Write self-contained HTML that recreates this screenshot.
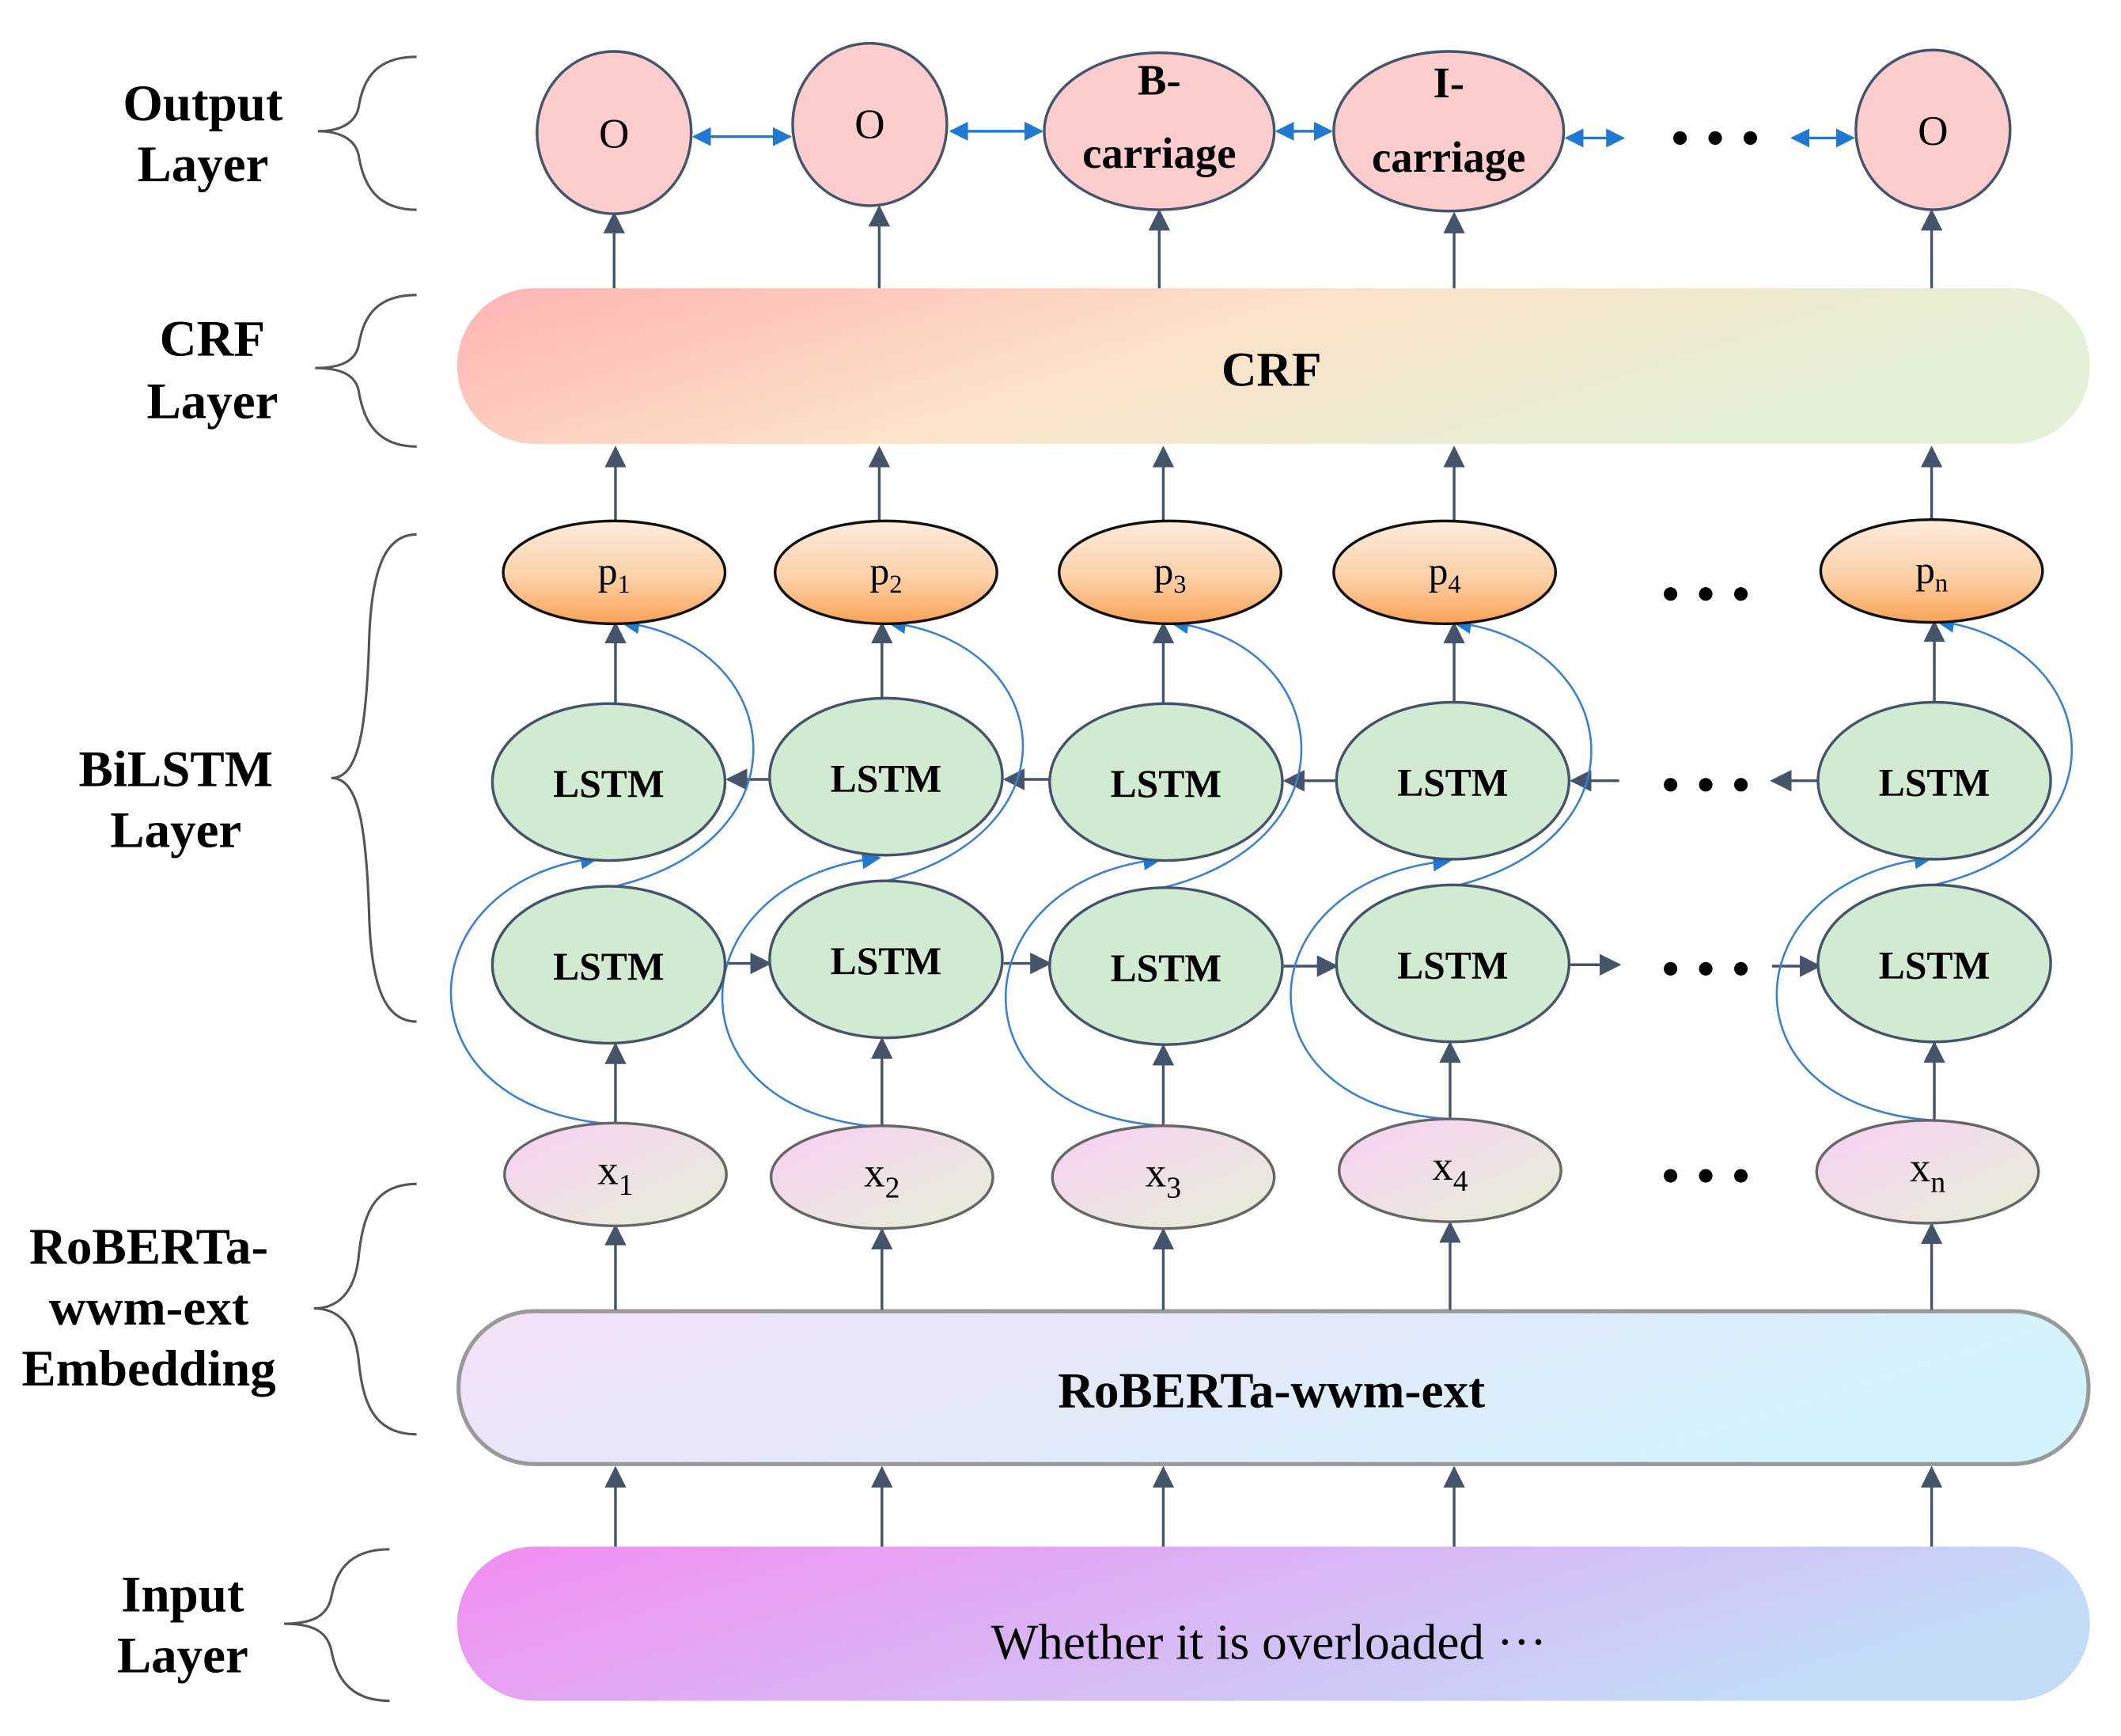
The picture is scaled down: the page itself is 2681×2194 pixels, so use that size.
<!DOCTYPE html>
<html><head><meta charset="utf-8"><style>
html,body{margin:0;padding:0;background:#fff;}
svg{display:block;}
text{font-family:"Liberation Serif",serif;}
</style></head><body>
<svg width="2681" height="2194" viewBox="0 0 1568 1283" preserveAspectRatio="none" xmlns="http://www.w3.org/2000/svg">
<defs>
<linearGradient id="crf" x1="0" y1="0" x2="1" y2="0.3"><stop offset="0" stop-color="#ffb3b3"/><stop offset="0.5" stop-color="#fbe2c8"/><stop offset="1" stop-color="#e2f1d8"/></linearGradient>
<linearGradient id="rob" x1="0" y1="0" x2="1" y2="0.3"><stop offset="0" stop-color="#f4e0f7"/><stop offset="1" stop-color="#d3f3fa"/></linearGradient>
<linearGradient id="inp" x1="0" y1="0" x2="1" y2="0.3"><stop offset="0" stop-color="#f38cf0"/><stop offset="1" stop-color="#c2dcf8"/></linearGradient>
<linearGradient id="pg" x1="0" y1="0" x2="0" y2="1"><stop offset="0" stop-color="#fdebdc"/><stop offset="0.55" stop-color="#fcd1a8"/><stop offset="1" stop-color="#f9a255"/></linearGradient>
<linearGradient id="xg" x1="0" y1="0" x2="1" y2="1"><stop offset="0" stop-color="#f9cff6"/><stop offset="1" stop-color="#e4f0d4"/></linearGradient>
<marker id="bh" viewBox="0 0 10 10" refX="9" refY="5" markerWidth="14" markerHeight="14" orient="auto-start-reverse" markerUnits="userSpaceOnUse"><path d="M0,0 L10,5 L0,10 z" fill="#1f78d1"/></marker>
<marker id="ch" viewBox="0 0 10 10" refX="9" refY="5" markerWidth="14" markerHeight="14" orient="auto" markerUnits="userSpaceOnUse"><path d="M0,0 L10,5 L0,10 z" fill="#1f78d1"/></marker>
<marker id="gh" viewBox="0 0 10 10" refX="9" refY="5" markerWidth="16" markerHeight="16" orient="auto" markerUnits="userSpaceOnUse"><path d="M0,0 L10,5 L0,10 z" fill="#44546a"/></marker>
</defs>

<g font-weight="bold" font-size="38" text-anchor="middle" fill="#000">
<text x="150" y="89">Output</text><text x="150" y="134">Layer</text>
<text x="157" y="263">CRF</text><text x="157" y="309">Layer</text>
<text x="130" y="581">BiLSTM</text><text x="130" y="626">Layer</text>
<text x="110" y="934">RoBERTa-</text><text x="110" y="979">wwm-ext</text><text x="110" y="1024">Embedding</text>
<text x="135" y="1191">Input</text><text x="135" y="1236">Layer</text>
</g>
<g fill="none" stroke="#555" stroke-width="1.8">
<path d="M308 42 C275 42 268 62 265 80 C262 92 250 97 235 97 C250 97 262 102 265 114 C268 132 275 155 308 155"/>
<path d="M308 218 C275 218 268 238 265 256 C262 268 250 272 233 272 C250 272 262 276 265 288 C268 306 275 330 308 330"/>
<path d="M308 395 C285 395 275 420 273 470 C271 540 265 575 245 575 C265 575 271 610 273 680 C275 730 285 755 308 755"/>
<path d="M308 875 C275 875 268 900 265 930 C262 955 250 967 232 967 C250 967 262 979 265 1004 C268 1035 275 1060 308 1060"/>
<path d="M288 1145 C255 1145 248 1165 245 1180 C242 1195 230 1200 210 1200 C230 1200 242 1205 245 1220 C248 1235 255 1257 288 1257"/>
</g>

<rect x="338" y="213" width="1207" height="115" rx="57" fill="url(#crf)"/>
<text x="940" y="285" font-size="36" font-weight="bold" text-anchor="middle">CRF</text>
<rect x="339" y="969" width="1205" height="113" rx="56" fill="url(#rob)" stroke="#999" stroke-width="3"/>
<text x="940" y="1040" font-size="37" font-weight="bold" text-anchor="middle">RoBERTa-wwm-ext</text>
<rect x="338" y="1143" width="1207" height="114" rx="57" fill="url(#inp)"/>
<text x="938" y="1226" font-size="37" text-anchor="middle">Whether it is overloaded ···</text>

<g stroke="#44546a" stroke-width="2" marker-end="url(#gh)">
<line x1="454" y1="213" x2="454" y2="158"/><line x1="650" y1="213" x2="650" y2="153"/><line x1="857" y1="213" x2="857" y2="156"/><line x1="1075" y1="213" x2="1075" y2="158"/><line x1="1428" y1="213" x2="1428" y2="156"/>
<line x1="455" y1="385" x2="455" y2="331"/><line x1="650" y1="385" x2="650" y2="331"/><line x1="860" y1="385" x2="860" y2="331"/><line x1="1075" y1="385" x2="1075" y2="331"/><line x1="1428" y1="385" x2="1428" y2="331"/>
<line x1="455" y1="520" x2="455" y2="461"/><line x1="652" y1="516" x2="652" y2="461"/><line x1="860" y1="520" x2="860" y2="461"/><line x1="1075" y1="519" x2="1075" y2="461"/><line x1="1430" y1="519" x2="1430" y2="460"/>
<line x1="455" y1="830" x2="455" y2="772"/><line x1="652" y1="832" x2="652" y2="768"/><line x1="860" y1="832" x2="860" y2="773"/><line x1="1072" y1="827" x2="1072" y2="771"/><line x1="1430" y1="828" x2="1430" y2="771"/>
<line x1="455" y1="968" x2="455" y2="906"/><line x1="652" y1="968" x2="652" y2="909"/><line x1="860" y1="968" x2="860" y2="909"/><line x1="1072" y1="968" x2="1072" y2="904"/><line x1="1428" y1="968" x2="1428" y2="905"/>
<line x1="455" y1="1143" x2="455" y2="1085"/><line x1="652" y1="1143" x2="652" y2="1085"/><line x1="860" y1="1143" x2="860" y2="1085"/><line x1="1075" y1="1143" x2="1075" y2="1085"/><line x1="1428" y1="1143" x2="1428" y2="1085"/>
<line x1="570" y1="576" x2="538" y2="576"/><line x1="777" y1="576" x2="743" y2="576"/><line x1="989" y1="577" x2="950" y2="577"/><line x1="1197" y1="577" x2="1162" y2="577"/><line x1="1345" y1="577" x2="1310" y2="577"/>
<line x1="537" y1="712" x2="569" y2="712"/><line x1="742" y1="712" x2="776" y2="712"/><line x1="949" y1="714" x2="988" y2="714"/><line x1="1161" y1="713" x2="1197" y2="713"/><line x1="1310" y1="714" x2="1345" y2="714"/>
</g>

<g fill="#fdcdcd" stroke="#44546a" stroke-width="2">
<ellipse cx="454" cy="98" rx="57" ry="60"/><ellipse cx="643" cy="92" rx="57" ry="60"/><ellipse cx="857" cy="97" rx="85" ry="58"/><ellipse cx="1071" cy="97" rx="85" ry="59"/><ellipse cx="1429" cy="96" rx="57" ry="59"/>
</g>
<g font-size="31" text-anchor="middle">
<text x="454" y="109">O</text><text x="643" y="102">O</text><text x="1429" y="107">O</text>
</g>
<g font-size="32" font-weight="bold" text-anchor="middle">
<text x="857" y="70">B-</text><text x="857" y="124">carriage</text>
<text x="1071" y="72">I-</text><text x="1071" y="127">carriage</text>
</g>
<g stroke="#1f78d1" stroke-width="2" marker-start="url(#bh)" marker-end="url(#bh)">
<line x1="513" y1="101" x2="584" y2="101"/><line x1="703" y1="97" x2="770" y2="97"/><line x1="944" y1="97" x2="984" y2="97"/><line x1="1158" y1="102" x2="1200" y2="102"/><line x1="1325" y1="102" x2="1370" y2="102"/>
</g>
<g fill="#000">
<circle cx="1242" cy="102" r="5"/><circle cx="1268" cy="102" r="5"/><circle cx="1294" cy="102" r="5"/>
<circle cx="1235" cy="439" r="5"/><circle cx="1261" cy="439" r="5"/><circle cx="1287" cy="439" r="5"/>
<circle cx="1235" cy="580" r="5"/><circle cx="1261" cy="580" r="5"/><circle cx="1287" cy="580" r="5"/>
<circle cx="1235" cy="716" r="5"/><circle cx="1261" cy="716" r="5"/><circle cx="1287" cy="716" r="5"/>
<circle cx="1235" cy="869" r="5"/><circle cx="1261" cy="869" r="5"/><circle cx="1287" cy="869" r="5"/>
</g>

<g fill="none" stroke="#3a7fd0" stroke-width="1.5" marker-end="url(#ch)">
<path d="M455 831 C290 820 300 650 442 634"/>
<path d="M652 833 C490 822 500 650 650 634"/>
<path d="M860 832 C700 822 710 650 858 635"/>
<path d="M1072 827 C910 818 920 650 1072 636"/>
<path d="M1430 828 C1270 818 1280 650 1428 634"/>
<path d="M455 655 C600 620 580 475 460 460"/>
<path d="M652 652 C800 615 780 475 657 460"/>
<path d="M860 656 C1005 620 985 475 866 460"/>
<path d="M1075 655 C1220 620 1200 475 1075 460"/>
<path d="M1430 654 C1575 620 1555 475 1432 459"/>
</g>

<g fill="url(#pg)" stroke="#111" stroke-width="2">
<ellipse cx="454" cy="423" rx="82" ry="38"/><ellipse cx="655" cy="423" rx="82" ry="38"/><ellipse cx="865" cy="423" rx="82" ry="38"/><ellipse cx="1068" cy="423" rx="82" ry="38"/><ellipse cx="1428" cy="422" rx="82" ry="38"/>
</g>
<g font-size="29" text-anchor="middle">
<text x="454" y="432">p<tspan font-size="19" dy="6">1</tspan></text>
<text x="655" y="432">p<tspan font-size="19" dy="6">2</tspan></text>
<text x="865" y="432">p<tspan font-size="19" dy="6">3</tspan></text>
<text x="1068" y="432">p<tspan font-size="19" dy="6">4</tspan></text>
<text x="1428" y="431">p<tspan font-size="19" dy="6">n</tspan></text>
</g>

<g fill="#d3ead2" stroke="#44546a" stroke-width="2">
<ellipse cx="450" cy="578" rx="86" ry="58"/><ellipse cx="655" cy="574" rx="86" ry="58"/><ellipse cx="862" cy="578" rx="86" ry="58"/><ellipse cx="1074" cy="577" rx="86" ry="58"/><ellipse cx="1430" cy="577" rx="86" ry="58"/>
<ellipse cx="450" cy="713" rx="86" ry="58"/><ellipse cx="655" cy="709" rx="86" ry="58"/><ellipse cx="862" cy="714" rx="86" ry="58"/><ellipse cx="1074" cy="712" rx="86" ry="58"/><ellipse cx="1430" cy="712" rx="86" ry="58"/>
</g>
<g font-size="29" font-weight="bold" text-anchor="middle">
<text x="450" y="589">LSTM</text><text x="655" y="585">LSTM</text><text x="862" y="589">LSTM</text><text x="1074" y="588">LSTM</text><text x="1430" y="588">LSTM</text>
<text x="450" y="724">LSTM</text><text x="655" y="720">LSTM</text><text x="862" y="725">LSTM</text><text x="1074" y="723">LSTM</text><text x="1430" y="723">LSTM</text>
</g>

<g fill="url(#xg)" stroke="#666" stroke-width="2">
<ellipse cx="455" cy="868" rx="82" ry="38"/><ellipse cx="652" cy="870" rx="82" ry="38"/><ellipse cx="860" cy="870" rx="82" ry="38"/><ellipse cx="1072" cy="865" rx="82" ry="38"/><ellipse cx="1425" cy="866" rx="82" ry="38"/>
</g>
<g font-size="31" text-anchor="middle">
<text x="455" y="875">x<tspan font-size="22" dy="8">1</tspan></text>
<text x="652" y="877">x<tspan font-size="22" dy="8">2</tspan></text>
<text x="860" y="877">x<tspan font-size="22" dy="8">3</tspan></text>
<text x="1072" y="872">x<tspan font-size="22" dy="8">4</tspan></text>
<text x="1425" y="873">x<tspan font-size="22" dy="8">n</tspan></text>
</g>
</svg>
</body></html>
